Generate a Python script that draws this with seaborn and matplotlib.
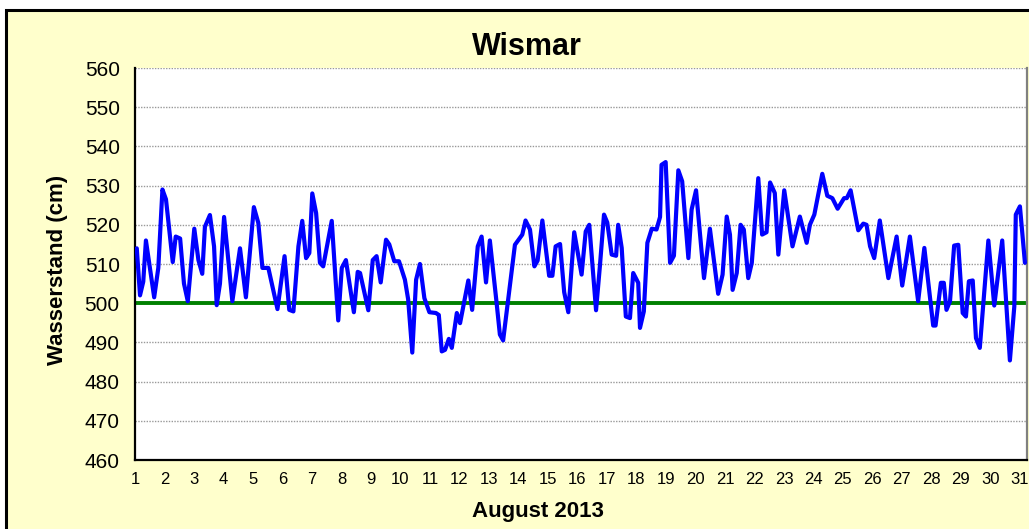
import matplotlib
matplotlib.use('Agg')
import matplotlib.pyplot as plt
import matplotlib.patches as patches
import seaborn as sns
import pandas as pd

# water level Wismar, August 2013 (x = day of month)
days = [1.06, 1.17, 1.28, 1.37, 1.65, 1.79, 1.93, 2.05, 2.28, 2.38, 2.53, 2.66, 2.79,
        3.01, 3.15, 3.28, 3.37, 3.54, 3.68, 3.77, 3.88, 4.02, 4.30, 4.56, 4.76, 5.03,
        5.18, 5.32, 5.52, 5.83, 6.07, 6.23, 6.37, 6.54, 6.67, 6.80, 6.91, 7.01, 7.14,
        7.27, 7.38, 7.67, 7.89, 8.01, 8.15, 8.42, 8.55, 8.63, 8.91, 9.06, 9.19, 9.33,
        9.51, 9.62, 9.79, 9.95, 10.15, 10.26, 10.40, 10.53, 10.66, 10.81, 10.98, 11.20,
        11.30, 11.40, 11.51, 11.64, 11.74, 11.91, 12.02, 12.30, 12.43, 12.62, 12.75,
        12.90, 13.03, 13.26, 13.37, 13.48, 13.88, 14.13, 14.24, 14.39, 14.54, 14.65,
        14.81, 15.04, 15.15, 15.26, 15.41, 15.55, 15.69, 15.89, 16.14, 16.28, 16.40,
        16.63, 16.76, 16.90, 17.01, 17.16, 17.31, 17.38, 17.50, 17.64, 17.78, 17.89,
        18.06, 18.12, 18.25, 18.37, 18.52, 18.68, 18.80, 18.85, 18.99, 19.14, 19.27,
        19.42, 19.55, 19.76, 19.87, 20.02, 20.29, 20.49, 20.77, 20.92, 21.06, 21.17,
        21.26, 21.40, 21.53, 21.64, 21.79, 21.91, 22.13, 22.26, 22.41, 22.53, 22.69,
        22.81, 23.01, 23.29, 23.54, 23.77, 23.88, 24.03, 24.30, 24.47, 24.64, 24.82,
        25.04, 25.13, 25.26, 25.52, 25.69, 25.80, 25.92, 26.06, 26.25, 26.54, 26.82,
        27.01, 27.27, 27.55, 27.76, 28.06, 28.14, 28.32, 28.42, 28.51, 28.63, 28.77,
        28.91, 29.06, 29.17, 29.27, 29.40, 29.51, 29.64, 29.93, 30.13, 30.40, 30.66,
        30.81, 30.86, 31.00, 31.17]
levels = [514, 502, 505.5, 516, 501.5, 509, 529, 526.5, 510.5, 517, 516.5, 505, 500.5,
          519, 511, 507.5, 519.5, 522.5, 514.5, 499.5, 505, 522, 500.5, 514, 501.5, 524.5,
          520.5, 509, 509, 498.5, 512, 498.3, 497.9, 514.5, 521, 511.5, 512.8, 528, 523,
          510.3, 509.4, 521, 495.6, 509, 511, 497.7, 508, 507.7, 498.2, 511, 512, 505.3,
          516.2, 515, 510.7, 510.7, 506, 501, 487.4, 506, 510, 501.3, 497.7, 497.5,
          497, 487.7, 488.1, 490.9, 488.6, 497.5, 494.9, 505.8, 498.3, 514.5, 517,
          505.3, 516, 500, 492, 490.5, 514.9, 517.5, 521.1, 518.8, 509.4, 510.9,
          521.1, 507, 507, 514.5, 515.1, 502.8, 497.7, 518.1, 507.3, 518.3, 520,
          498.2, 509.4, 522.6, 520.6, 512.4, 512.1, 520, 514.1, 496.6, 496.2, 507.7,
          505.2, 493.7, 497.9, 515.4, 519, 518.8, 522, 535.3, 536, 510.3, 512.1,
          533.9, 531.1, 511.5, 523.9, 528.8, 506.4, 519, 502.4, 507.3, 522.1, 517.5,
          503.4, 507.7, 520, 518.8, 506.4, 510.3, 531.9, 517.5, 518.1, 530.8, 528.1,
          512.4, 528.8, 514.5, 522.1, 515.4, 520, 522.6, 533, 527.4, 526.8, 524.1,
          526.8, 526.8, 528.8, 518.6, 520.3, 520, 514.5, 511.5, 521.1, 506.4, 517,
          504.5, 517, 500.5, 514.1, 494.3, 494.3, 505.2, 505.2, 498.3, 500.5, 514.7,
          514.9, 497.5, 496.6, 505.6, 505.8, 491.1, 488.6, 516, 499.4, 516, 485.4,
          499.2, 522.6, 524.7, 510.3]
ref_level = 500
day_ticks = list(range(1, 32))
y_ticks = list(range(460, 561, 10))

df = pd.DataFrame({'day': days, 'level': levels})

sns.set_style('white')
plt.rcParams['font.family'] = ['Liberation Sans', 'DejaVu Sans']
plt.rcParams['text.color'] = 'black'
plt.rcParams['xtick.color'] = 'black'
plt.rcParams['ytick.color'] = 'black'

W, H = 1029, 529
fig = plt.figure(figsize=(W / 100, H / 100), dpi=100, facecolor='white')

# pale yellow chart area with black frame
frame = patches.Rectangle((6 / W, -0.1), 1.1, (H - 10) / H + 0.1,
                          transform=fig.transFigure, facecolor='#FFFFCC',
                          edgecolor='black', lw=2.2, zorder=-10)
fig.add_artist(frame)

ax = fig.add_axes([135 / W, 69 / H, 892 / W, 392 / H])
ax.set_facecolor('white')

for y in y_ticks[1:]:
    ax.axhline(y, color='#999999', lw=1.0, ls=(0, (1, 1)), zorder=1)
ax.axhline(ref_level, color='#008000', lw=2.8, zorder=2)
sns.lineplot(data=df, x='day', y='level', ax=ax, color='#0000FF', lw=3.0,
             estimator=None, sort=False, zorder=3)

ax.set_xlim(1, 31.24)
ax.set_ylim(460, 560)
ax.set_yticks(y_ticks)
ax.set_yticklabels([str(v) for v in y_ticks], fontsize=15, color='black')
ax.set_xticks(day_ticks)
ax.set_xticklabels([str(d) for d in day_ticks], fontsize=12, color='black')
ax.tick_params(axis='y', direction='out', length=4, width=1.2, pad=7, color='black')
ax.tick_params(axis='x', direction='in', length=3, width=1.2, pad=9, color='black')
ax.set_xlabel('')
ax.set_ylabel('')

for side in ['left', 'bottom']:
    ax.spines[side].set_color('black')
    ax.spines[side].set_linewidth(1.6)
ax.spines['top'].set_visible(False)
ax.spines['right'].set_color('#808080')
ax.spines['right'].set_linewidth(1.6)

fig.text(527 / W, 1 - 55 / H, 'Wismar', ha='center', va='baseline',
         fontsize=22, fontweight='bold', color='black')
fig.text(538 / W, 1 - 512 / H, 'August 2013', ha='center', va='center',
         fontsize=16, fontweight='bold', color='black')
fig.text(57 / W, 1 - 270 / H, 'Wasserstand (cm)', ha='center', va='center',
         rotation=90, fontsize=16, fontweight='bold', color='black')

fig.savefig('out.png', dpi=100)
